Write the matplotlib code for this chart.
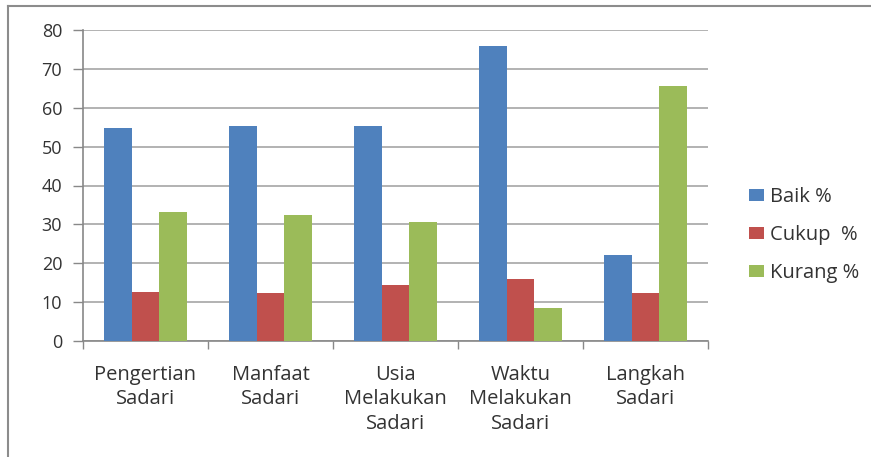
import matplotlib
matplotlib.use("Agg")
import matplotlib.pyplot as plt
import numpy as np
from matplotlib.lines import Line2D

categories = ["Pengertian\nSadari", "Manfaat\nSadari", "Usia\nMelakukan\nSadari",
              "Waktu\nMelakukan\nSadari", "Langkah\nSadari"]
series_names = ["Baik %", "Cukup  %", "Kurang %"]
baik = [54.7, 55.4, 55.4, 75.9, 22.1]
cukup = [12.5, 12.3, 14.4, 16.0, 12.3]
kurang = [33.1, 32.4, 30.5, 8.4, 65.7]
colors = ["#4F81BD", "#C0504D", "#9BBB59"]
yticks = [0, 10, 20, 30, 40, 50, 60, 70, 80]

plt.rcParams['font.family'] = ['Open Sans', 'DejaVu Sans']
txt = "#333333"

fig = plt.figure(figsize=(8.71, 4.57), dpi=100)
ax = fig.add_axes([83/871, 1-341/457, 625/871, 311/457])

x = np.arange(len(categories))
w = 1/4.5
for i, (vals, name) in enumerate(zip([baik, cukup, kurang], series_names)):
    ax.bar(x + (i-1)*w, vals, width=w, color=colors[i], label=name, zorder=3)

ax.set_xlim(-0.5, len(categories)-0.5)
ax.set_ylim(0, 80)
ax.set_yticks(yticks)
ax.set_yticklabels([str(t) for t in yticks], fontsize=13, color=txt)
ax.yaxis.grid(True, color="#A6A6A6", linewidth=1.2, zorder=0)
ax.set_axisbelow(True)

ax.set_xticks(x)
ax.set_xticklabels(categories, fontsize=14.5, color=txt, linespacing=1.3)
ax.set_xticks(np.arange(-0.5, len(categories), 1.0), minor=True)
ax.tick_params(axis='x', which='major', length=0, pad=17)
ax.tick_params(axis='x', which='minor', length=6, color="#888888", width=1.0)
ax.tick_params(axis='y', length=7, color="#888888", width=1.0, pad=8)

for s in ['top', 'right']:
    ax.spines[s].set_visible(False)
for s in ['left', 'bottom']:
    ax.spines[s].set_color("#888888")
    ax.spines[s].set_linewidth(1.2)

leg = ax.legend(loc='center left', bbox_to_anchor=(741/871, 1-235/457),
                bbox_transform=fig.transFigure, frameon=False, fontsize=14.5,
                handlelength=0.75, handleheight=0.55, handletextpad=0.3,
                labelspacing=0.9, borderaxespad=0)
for t in leg.get_texts():
    t.set_color(txt)

# outer frame
fig.add_artist(Line2D([8/871, 8/871], [0, 1-6/457], transform=fig.transFigure,
                      color="#8C8C8C", linewidth=1.5))
fig.add_artist(Line2D([8/871, 1], [1-6/457, 1-6/457], transform=fig.transFigure,
                      color="#8C8C8C", linewidth=1.5))

fig.savefig("out.png", dpi=100, facecolor="white")
